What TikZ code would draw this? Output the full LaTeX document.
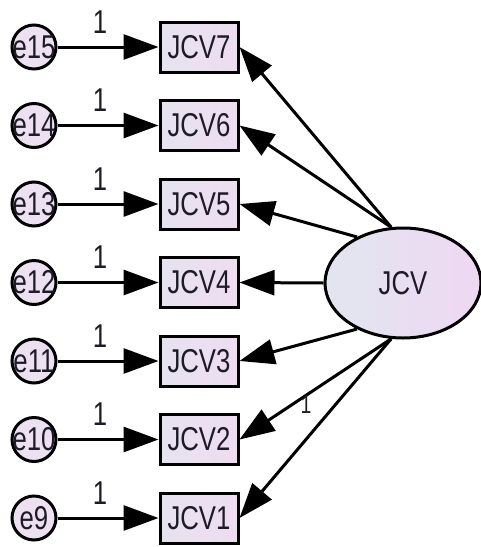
\documentclass[tikz,border=0pt]{standalone}
\usepackage{fontspec}
\newfontfamily\amosfont[FakeStretch=0.78]{Liberation Sans}
\usetikzlibrary{arrows.meta,shapes.geometric}
\definecolor{obsleft}{HTML}{E6E3F0}
\definecolor{obsright}{HTML}{EFDCF1}
\definecolor{latleft}{HTML}{E1E6F0}
\definecolor{latright}{HTML}{EFD8F2}
\definecolor{errfill}{HTML}{ECE0F1}
\definecolor{ink}{HTML}{1E1B28}

\begin{document}
\begin{tikzpicture}[x=1pt,y=-1pt,
every node/.style={font=\amosfont\fontsize{33}{33}\selectfont,text=ink},
obs/.style={draw,line width=3pt,inner sep=0pt,minimum width=78pt,minimum height=50pt,left color=obsleft,right color=obsright},
err/.style={circle,draw,line width=3pt,inner sep=0pt,minimum size=44pt,fill=errfill},
lat/.style={ellipse,draw,line width=3pt,inner sep=0pt,minimum width=156pt,minimum height=110pt,left color=latleft,right color=latright},
regpath/.style={line width=3pt,-{Triangle[length=35pt,width=25pt]}}
]
\useasboundingbox (0,0) rectangle (480,547);
\node[lat] (jcv) at (403,283) {JCV};
\foreach \i/\e [count=\r from 0] in {7/15,6/14,5/13,4/12,3/11,2/10,1/9} {
    \node[obs] (jcv\i) at (199,47+78.5*\r) {JCV\i};
    \node[err,label=center:e\e] (e\e) at (34,47+78.5*\r) {};
    \draw[regpath] (e\e) -- (jcv\i)
        node[pos=0.42,anchor=base,inner sep=0pt,yshift=14pt] {1};
}
\foreach \i/\a in {7/102,6/102,5/135,4/180,3/225,2/258} {
    \draw[regpath] (jcv.\a) -- (jcv\i.east);
}
\draw[regpath] (jcv.258) -- (jcv1.east)
    node[pos=0.37,xshift=-29pt,inner sep=0pt,font=\amosfont\fontsize{25}{25}\selectfont] {1};
\end{tikzpicture}
\end{document}
